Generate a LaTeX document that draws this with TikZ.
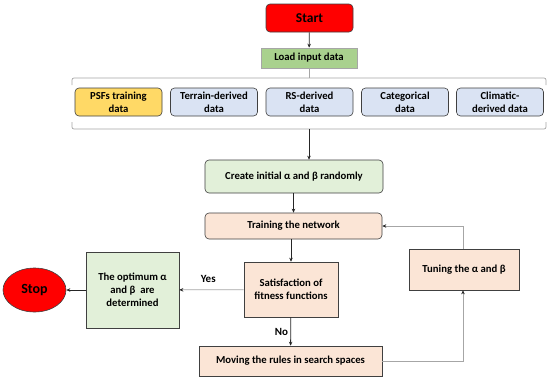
\documentclass[tikz,border=0pt]{standalone}
\usepackage{fontspec}
\setmainfont{Carlito}
\usetikzlibrary{arrows.meta,shapes.geometric}
\definecolor{cred}{HTML}{FF0000}
\definecolor{cgreen}{HTML}{A9D18E}
\definecolor{clgreen}{HTML}{E2F0D9}
\definecolor{cpeach}{HTML}{FBE5D6}
\definecolor{cblue}{HTML}{DAE3F3}
\definecolor{cyellow}{HTML}{FFD966}
\definecolor{cline}{HTML}{404040}
\definecolor{cgray}{HTML}{A6A6A6}
\begin{document}
\begin{tikzpicture}[x=1pt,y=-1pt,
  font=\fontsize{10.7}{13}\selectfont\bfseries,
  box/.style={draw=cline,line width=0.6pt,align=center,inner sep=1pt,minimum width=#1},
  rbox/.style={box=#1,rounded corners=4pt},
  darr/.style={draw=black!85,line width=0.8pt,-{Stealth[length=4pt,width=3.5pt]}},
  garr/.style={draw=cgray,line width=0.7pt,-{Stealth[length=4pt,width=3.5pt,black!85]}},
  gline/.style={draw=cgray,line width=0.7pt},
  lbl/.style={font=\fontsize{11}{13}\selectfont\bfseries}]
\useasboundingbox (0,0) rectangle (550,381);
\fill[white] (0,0) rectangle (550,381);
% nodes
\node[rbox=87pt,fill=cred,minimum height=28pt,font=\fontsize{13.5}{15}\selectfont\bfseries] (start) at (309.5,18) {Start};
\node[box=96pt,fill=cgreen,draw=cgray,minimum height=20pt] (load) at (309,58) {Load input data};
\node[rbox=87pt,fill=cyellow,minimum height=28pt] (d1) at (118.5,102) {PSFs training\\data};
\node[rbox=87pt,fill=cblue,minimum height=28pt] (d2) at (214,102) {Terrain-derived\\data};
\node[rbox=87pt,fill=cblue,minimum height=28pt] (d3) at (309.5,102) {RS-derived\\data};
\node[rbox=87pt,fill=cblue,minimum height=28pt] (d4) at (405,102) {Categorical\\data};
\node[rbox=87pt,fill=cblue,minimum height=28pt] (d5) at (500,102) {Climatic-\\derived data};
% bracket
\coordinate (btop) at (309,78);
\coordinate (bbot) at (309,129);
\draw[gline,rounded corners=2pt] (72,85) -- (72,78) -- (546,78) -- (546,85);
\draw[gline,rounded corners=2pt] (72,122) -- (72,129) -- (546,129) -- (546,122);
\node[rbox=178pt,fill=clgreen,minimum height=33pt] (create) at (294,176.5) {Create initial α and β randomly};
\node[rbox=177pt,fill=cpeach,minimum height=26pt] (train) at (293.5,226) {Training the network};
\node[box=94pt,fill=cpeach,minimum height=55pt] (sat) at (291,289.5) {Satisfaction of\\fitness functions};
\node[box=93pt,fill=clgreen,minimum height=76pt] (opt) at (132.5,290) {The optimum α\\and β~ are\\determined};
\node[ellipse,draw=cline,line width=0.6pt,fill=cred,minimum width=63pt,minimum height=44pt,inner sep=0pt,font=\fontsize{14}{16}\selectfont\bfseries] (stop) at (34.5,290) {Stop};
\node[box=110pt,fill=cpeach,minimum height=41pt] (tune) at (464,269.5) {Tuning the α and β};
\node[box=183pt,fill=cpeach,minimum height=30pt] (move) at (290.5,361) {Moving the rules in search spaces};
% connectors
\draw[darr] (start) -- (load);
\draw[gline] (load) -- (btop);
\draw[darr] (bbot) -- (create.north -| bbot);
\draw[darr] (create.south -| train) -- (train);
\draw[darr] (train.south -| sat) -- (sat);
\draw[garr] (sat) -- node[lbl,above=4pt,pos=0.55,black] {Yes} (opt);
\draw[darr] (opt) -- (stop);
\draw[darr] (sat) -- node[lbl,left=-1pt,pos=0.5,black] {No} (move);
\coordinate (c1) at (463,361);
\coordinate (c2) at (463,226);
\draw[garr] (move.east) -- (c1) -- (tune.south -| c1);
\draw[garr] (tune.north -| c2) -- (c2) -- (train.east);
\end{tikzpicture}
\end{document}
